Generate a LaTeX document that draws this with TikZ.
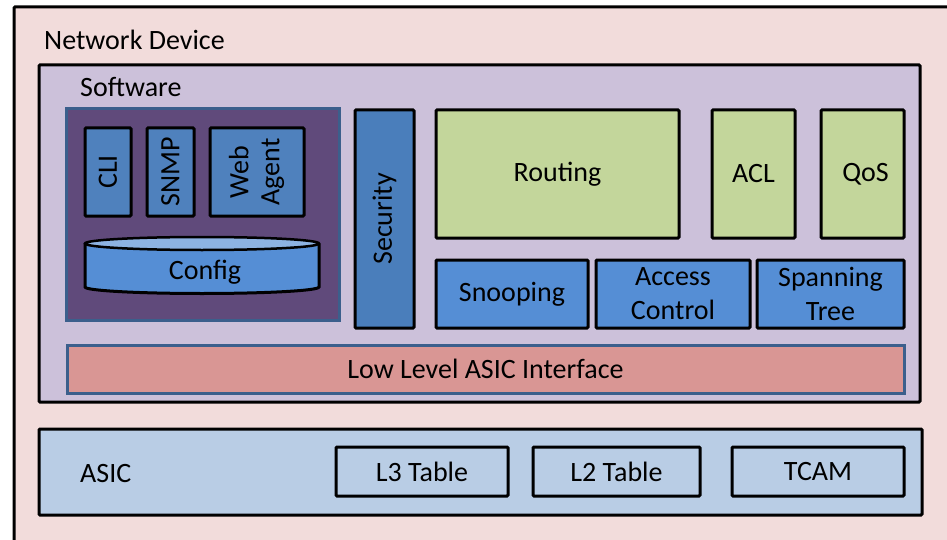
\documentclass[tikz,border=0pt]{standalone}
\usepackage{fontspec}
\setmainfont{Carlito}
\definecolor{devpink}{HTML}{F2DCDB}
\definecolor{swpurple}{HTML}{CCC1DA}
\definecolor{mgmtpurple}{HTML}{604A7B}
\definecolor{frameblue}{HTML}{3B5F8C}
\definecolor{secblue}{HTML}{4A7EBB}
\definecolor{midblue}{HTML}{4F81BD}
\definecolor{brightblue}{HTML}{558ED5}
\definecolor{paleblue}{HTML}{8DB3E2}
\definecolor{featgreen}{HTML}{C3D69B}
\definecolor{llpink}{HTML}{D99694}
\definecolor{asicblue}{HTML}{B9CDE5}
\begin{document}
\begin{tikzpicture}[x=1pt,y=-1pt,
  txt/.style={font=\fontsize{28}{34}\selectfont, text=black},
  blk/.style={draw=black, line width=3pt, rounded corners=1pt, inner sep=0pt, txt, align=center},
  sized/.style 2 args={minimum width=#1 pt, minimum height=#2 pt},
  bluebox/.style={blk, fill=midblue},
  greenbox/.style={blk, fill=featgreen},
  brightbox/.style={blk, fill=brightblue},
  tablebox/.style={blk, fill=asicblue},
  lbl/.style={txt, inner sep=0pt, anchor=base west}]
\clip (0,0) rectangle (947,540);
\fill[white] (0,0) rectangle (947,540);

% outer device frame (runs off the right and bottom edges)
\node[blk, fill=devpink, sized={966}{573}] (device) at (497,293.5) {};
\node[lbl] (devlabel) at (44,50) {Network Device};

% software layer
\node[blk, fill=swpurple, sized={881}{337}] (software) at (479.5,233.5) {};
\node[lbl] (swlabel) at (80,97) {Software};

% management group
\node[draw=frameblue, line width=3pt, fill=mgmtpurple, inner sep=0pt, sized={273}{211}] (mgmt) at (202.5,214.5) {};
\node[bluebox, sized={46}{88}] (cli) at (108,172) {\rotatebox{90}{CLI}};
\node[bluebox, sized={47}{88}] (snmp) at (170.5,172) {\rotatebox{90}{SNMP}};
\node[bluebox, sized={94}{88}] (web) at (257,172)
  {\rotatebox{90}{\begin{tabular}{@{}c@{}}Web\\[-3pt]Agent\end{tabular}}};

% configuration store drawn as a cylinder
\draw[line width=3pt, fill=brightblue] (85,243.5) -- (85,287)
  arc[start angle=180, end angle=0, x radius=117, y radius=6.5] -- (319,243.5);
\draw[line width=2.5pt, fill=paleblue] (202,243.5) ellipse[x radius=117, y radius=6.5];
\node[txt, inner sep=0pt] (config) at (205,272) {Config};

% security column
\node[blk, fill=secblue, sized={59}{218}] (security) at (384.5,219) {\rotatebox{90}{Security}};

% feature modules
\node[greenbox, sized={243}{128}] (routing) at (557.5,174) {Routing};
\node[greenbox, sized={83}{128}] (acl) at (753.5,174) {ACL};
\node[greenbox, sized={83}{128}] (qos) at (862.5,174) {\hspace{6pt}QoS};

\node[brightbox, sized={152}{68}] (snoop) at (512,294) {Snooping};
\node[brightbox, sized={154}{68}] (access) at (673,294) {Access\\Control};
\node[brightbox, sized={147}{68}] (stp) at (830.5,294) {Spanning\\Tree};

% low level interface bar
\node[draw=frameblue, line width=3pt, fill=llpink, inner sep=0pt, txt, sized={837}{48}] (llai) at (485.5,369) {Low Level ASIC Interface};

% hardware layer
\node[blk, fill=asicblue, sized={883}{86}] (asic) at (480.5,472) {};
\node[lbl] (asiclabel) at (80,482) {ASIC};
\node[tablebox, sized={172}{49}] (l3) at (422,471.5) {L3 Table};
\node[tablebox, sized={167}{49}] (l2) at (616.5,471.5) {L2 Table};
\node[tablebox, sized={172}{49}] (tcam) at (818,471.5) {TCAM};
\end{tikzpicture}
\end{document}
